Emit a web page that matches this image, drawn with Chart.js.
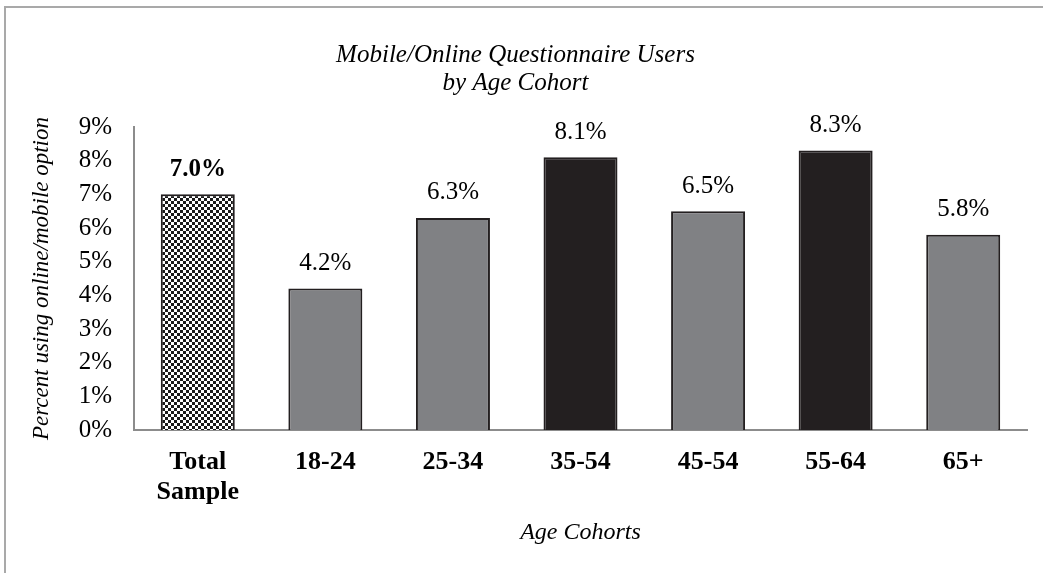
<!DOCTYPE html>
<html>
<head>
<meta charset="utf-8">
<script src="https://cdn.jsdelivr.net/npm/chart.js@4"></script>
<style>
  html, body { margin: 0; padding: 0; background: #fff; }
  .wrap { position: relative; width: 1043px; height: 573px; overflow: hidden; }
  .frame { position: absolute; left: 4px; top: 6px; width: 1100px; height: 600px;
           border-top: 2px solid #a9a9a9; border-left: 2px solid #a9a9a9; }
  canvas { position: absolute; left: 0; top: 0; }
</style>
</head>
<body>
<div class="wrap">
  <div class="frame"></div>
  <canvas id="cohortChart" width="1043" height="573"></canvas>
</div>
<script>
// ===== Data =====
const cohorts = [["Total", "Sample"], "18-24", "25-34", "35-54", "45-54", "55-64", "65+"];
const percentOnline = [7.0, 4.2, 6.3, 8.1, 6.5, 8.3, 5.8];
const yTicks = [0, 1, 2, 3, 4, 5, 6, 7, 8, 9];

const serif = "'Liberation Serif', 'Times New Roman', serif";

// checkered fill for the "Total Sample" bar
function checkerPattern() {
  const c = document.createElement("canvas");
  c.width = 6;
  c.height = 6;
  const g = c.getContext("2d");
  g.fillStyle = "#ffffff";
  g.fillRect(0, 0, 6, 6);
  g.fillStyle = "#1a1a1a";
  g.fillRect(0, 0, 3, 3);
  g.fillRect(3, 3, 3, 3);
  return g.createPattern(c, "repeat");
}

const barColors = [checkerPattern(), "#808184", "#808184", "#231f20", "#808184", "#231f20", "#808184"];

// value labels above each bar
const valueLabels = {
  id: "valueLabels",
  afterDatasetsDraw(chart) {
    const ctx = chart.ctx;
    const meta = chart.getDatasetMeta(0);
    ctx.save();
    ctx.fillStyle = "#000";
    ctx.textAlign = "center";
    ctx.textBaseline = "middle";
    meta.data.forEach((bar, i) => {
      ctx.font = (i === 0 ? "bold " : "") + "25px " + serif;
      ctx.fillText(percentOnline[i].toFixed(1) + "%", bar.x, bar.y - 25);
    });
    ctx.restore();
  }
};

new Chart(document.getElementById("cohortChart"), {
  type: "bar",
  data: {
    labels: cohorts,
    datasets: [{
      data: percentOnline,
      backgroundColor: barColors,
      borderColor: "#231f20",
      borderWidth: 2,
      categoryPercentage: 1,
      barPercentage: 0.58
    }]
  },
  options: {
    responsive: false,
    animation: false,
    layout: { padding: { left: 4, right: 16, top: 0, bottom: 0 } },
    plugins: {
      legend: { display: false },
      tooltip: { enabled: false },
      title: {
        display: true,
        text: ["Mobile/Online Questionnaire Users", "by Age Cohort"],
        color: "#000",
        font: { family: serif, size: 25, style: "italic", weight: "normal", lineHeight: 1.14 },
        padding: { top: 41, bottom: 29 }
      }
    },
    scales: {
      x: {
        grid: { display: false, drawTicks: false },
        border: { display: true, color: "#8c8c8c", width: 2 },
        ticks: {
          color: "#000",
          padding: 17,
          font: { family: serif, size: 26, weight: "bold", lineHeight: 1.15 }
        },
        title: {
          display: true,
          text: "Age Cohorts",
          color: "#000",
          font: { family: serif, size: 24, style: "italic", lineHeight: 1.2 },
          padding: { top: 0, bottom: 26 }
        },
        afterFit(scale) { scale.height = 143; }
      },
      y: {
        min: 0,
        max: yTicks[yTicks.length - 1],
        grid: { display: false, drawTicks: false },
        border: { display: true, color: "#8c8c8c", width: 2 },
        afterBuildTicks(scale) { scale.ticks = yTicks.map(v => ({ value: v })); },
        ticks: {
          color: "#000",
          padding: 22,
          font: { family: serif, size: 25 },
          callback: v => v + "%"
        },
        title: {
          display: true,
          text: "Percent using online/mobile option",
          color: "#000",
          font: { family: serif, size: 23, style: "italic", lineHeight: 1.2 },
          padding: { top: 24, bottom: 0 }
        },
        afterFit(scale) { scale.width = 130; }
      }
    }
  },
  plugins: [valueLabels]
});
</script>
</body>
</html>
